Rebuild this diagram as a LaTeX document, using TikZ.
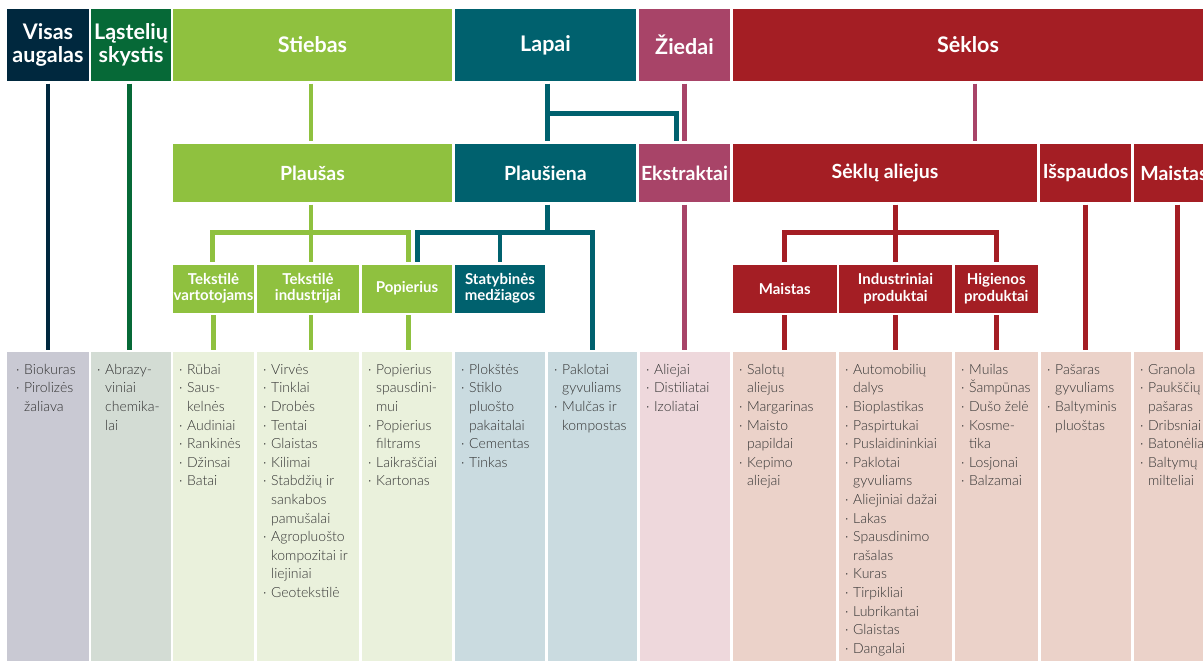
\documentclass[tikz,border=0pt]{standalone}
\usepackage{fontspec}
\setmainfont{Lato}
\newfontfamily\hdrfont{Lato Bold}
\newfontfamily\bodyfont{Lato Light}
\definecolor{cNavy}{HTML}{00283E}
\definecolor{cDGreen}{HTML}{066937}
\definecolor{cLime}{HTML}{8FC13F}
\definecolor{cTeal}{HTML}{00616E}
\definecolor{cMauve}{HTML}{A84468}
\definecolor{cRed}{HTML}{A41E24}
\definecolor{cFNavy}{HTML}{C9C9D3}
\definecolor{cFDGreen}{HTML}{D3DCD4}
\definecolor{cFLime}{HTML}{EAF1DC}
\definecolor{cFTeal}{HTML}{CADBE0}
\definecolor{cFMauve}{HTML}{EED8DC}
\definecolor{cFRed}{HTML}{EBD2C9}
\definecolor{cBody}{HTML}{333333}
\newcommand\myb{\makebox[8pt][l]{·}}
\newcommand\myc{\hspace*{8pt}}
\newcommand\myst{\rule{0pt}{11pt}}
\tikzset{
 hdr/.style={rectangle, inner sep=0pt, align=center, text=white, fill=#1},
 tophdr/.style={hdr=#1, minimum height=72pt, font=\hdrfont\fontsize{21.5}{22.5}\selectfont},
 midhdr/.style={hdr=#1, minimum height=58pt, font=\hdrfont\fontsize{19.5}{21}\selectfont},
 subhdr/.style={hdr=#1, minimum height=48pt, font=\hdrfont\fontsize{15}{16.5}\selectfont},
 colbox/.style={rectangle, inner sep=0pt, fill=#1, minimum height=312pt, anchor=north west},
 body/.style={inner sep=0pt, anchor=north west, align=left, text=cBody, font=\bodyfont\fontsize{14}{18.6}\selectfont},
 ln/.style={draw=#1, line width=4.6pt, shorten <=2.5pt, shorten >=2.5pt},
}
\begin{document}
\begin{tikzpicture}[x=1pt,y=-1pt]
\useasboundingbox (0,0) rectangle (1203,661);
\fill[white] (0,0) rectangle (1203,661);
\clip (0,0) rectangle (1203,661);
% top row
\node[tophdr=cNavy, minimum width=82pt] (va) at (48,45) {Visas\\augalas};
\node[tophdr=cDGreen, minimum width=80pt] (ls) at (131,45) {Ląstelių\\skystis};
\node[tophdr=cLime, minimum width=279pt] (st) at (312.5,45) {Stiebas};
\node[tophdr=cTeal, minimum width=181pt] (la) at (545.5,45) {Lapai};
\node[tophdr=cMauve, minimum width=91pt] (zi) at (684.5,45) {Žiedai};
\node[tophdr=cRed, minimum width=470pt] (se) at (968,45) {Sėklos};
% second row
\node[midhdr=cLime, minimum width=279pt] (pls) at (312.5,173) {Plaušas};
\node[midhdr=cTeal, minimum width=181pt] (plu) at (545.5,173) {Plaušiena};
\node[midhdr=cMauve, minimum width=91pt] (ek) at (684.5,173) {Ekstraktai};
\node[midhdr=cRed, minimum width=304pt] (sa) at (885,173) {Sėklų aliejus};
\node[midhdr=cRed, minimum width=91pt] (is) at (1085.5,173) {Išspaudos};
\node[midhdr=cRed, minimum width=80pt] (ma) at (1174,173) {Maistas};
% third row
\node[subhdr=cLime, minimum width=81pt] (tv) at (213.5,288.5) {Tekstilė\\vartotojams};
\node[subhdr=cLime, minimum width=102pt] (ti) at (308,288.5) {Tekstilė\\industrijai};
\node[subhdr=cLime, minimum width=90pt] (po) at (407,288.5) {Popierius};
\node[subhdr=cTeal, minimum width=90.5pt] (sm) at (500,288.5) {Statybinės\\medžiagos};
\node[subhdr=cRed, minimum width=103.5pt] (mai) at (784.75,288.5) {Maistas};
\node[subhdr=cRed, minimum width=113pt] (ip) at (895.5,288.5) {Industriniai\\produktai};
\node[subhdr=cRed, minimum width=82.5pt] (hp) at (996.25,288.5) {Higienos\\produktai};
% columns
\node[colbox=cFNavy, minimum width=82pt] (c1) at (7,352) {};
\node[colbox=cFDGreen, minimum width=80pt] (c2) at (91,352) {};
\node[colbox=cFLime, minimum width=81pt] (c3) at (173,352) {};
\node[colbox=cFLime, minimum width=102pt] (c4) at (257,352) {};
\node[colbox=cFLime, minimum width=90pt] (c5) at (362,352) {};
\node[colbox=cFTeal, minimum width=90pt] (c6) at (455,352) {};
\node[colbox=cFTeal, minimum width=89pt] (c7) at (548,352) {};
\node[colbox=cFMauve, minimum width=90pt] (c8) at (640,352) {};
\node[colbox=cFRed, minimum width=103pt] (c9) at (733,352) {};
\node[colbox=cFRed, minimum width=113pt] (c10) at (839,352) {};
\node[colbox=cFRed, minimum width=83pt] (c11) at (955,352) {};
\node[colbox=cFRed, minimum width=90pt] (c12) at (1041,352) {};
\node[colbox=cFRed, minimum width=88pt] (c13) at (1134,352) {};
% column texts
\node[body] (t1) at (16,363) {\myst\myb Biokuras\\\myb Pirolizės\\\myc žaliava};
\node[body] (t2) at (97,363) {\myst\myb Abrazy-\\\myc viniai\\\myc chemika-\\\myc lai};
\node[body] (t3) at (179,363) {\myst\myb Rūbai\\\myb Saus-\\\myc kelnės\\\myb Audiniai\\\myb Rankinės\\\myb Džinsai\\\myb Batai};
\node[body] (t4) at (263,363) {\myst\myb Virvės\\\myb Tinklai\\\myb Drobės\\\myb Tentai\\\myb Glaistas\\\myb Kilimai\\\myb Stabdžių ir\\\myc sankabos\\\myc pamušalai\\\myb Agropluošto\\\myc kompozitai ir\\\myc liejiniai\\\myb Geotekstilė};
\node[body] (t5) at (368,363) {\myst\myb Popierius\\\myc spausdini-\\\myc mui\\\myb Popierius\\\myc filtrams\\\myb Laikraščiai\\\myb Kartonas};
\node[body] (t6) at (461,363) {\myst\myb Plokštės\\\myb Stiklo\\\myc pluošto\\\myc pakaitalai\\\myb Cementas\\\myb Tinkas};
\node[body] (t7) at (554,363) {\myst\myb Paklotai\\\myc gyvuliams\\\myb Mulčas ir\\\myc kompostas};
\node[body] (t8) at (646,363) {\myst\myb Aliejai\\\myb Distiliatai\\\myb Izoliatai};
\node[body] (t9) at (739,363) {\myst\myb Salotų\\\myc aliejus\\\myb Margarinas\\\myb Maisto\\\myc papildai\\\myb Kepimo\\\myc aliejai};
\node[body] (t10) at (845,363) {\myst\myb Automobilių\\\myc dalys\\\myb Bioplastikas\\\myb Paspirtukai\\\myb Puslaidininkiai\\\myb Paklotai\\\myc gyvuliams\\\myb Aliejiniai dažai\\\myb Lakas\\\myb Spausdinimo\\\myc rašalas\\\myb Kuras\\\myb Tirpikliai\\\myb Lubrikantai\\\myb Glaistas\\\myb Dangalai};
\node[body] (t11) at (961,363) {\myst\myb Muilas\\\myb Šampūnas\\\myb Dušo želė\\\myb Kosme-\\\myc tika\\\myb Losjonai\\\myb Balzamai};
\node[body] (t12) at (1047,363) {\myst\myb Pašaras\\\myc gyvuliams\\\myb Baltyminis\\\myc pluoštas};
\node[body] (t13) at (1140,363) {\myst\myb Granola\\\myb Paukščių\\\myc pašaras\\\myb Dribsniai\\\myb Batonėliai\\\myb Baltymų\\\myc milteliai};
% connectors top -> second
\draw[ln=cNavy] (va.south) -- (va.south |- c1.north);
\draw[ln=cDGreen] ([xshift=-1.5pt]ls.south) -- ([xshift=-1.5pt]ls.south |- c2.north);
\draw[ln=cLime] ([xshift=-1.5pt]st.south) -- ([xshift=-1.5pt]st.south |- pls.north);
\draw[ln=cTeal] ([xshift=2pt]la.south) -- ([xshift=2pt]la.south |- plu.north);
\coordinate (jl) at (547.5,113.5);
\draw[ln=cTeal, shorten <=0pt] (jl) -| ([xshift=-8pt]ek.north);
\draw[ln=cMauve] (zi.south) -- (zi.south |- ek.north);
\draw[ln=cMauve] ([xshift=7pt]se.south) -- ([xshift=7pt]se.south |- sa.north);
% second -> third
\coordinate (jy) at (0,232.5);
\draw[ln=cLime] ([xshift=-1.5pt]pls.south) -- ([xshift=-1.5pt]pls.south |- ti.north);
\draw[ln=cLime] ([xshift=-1pt]tv.north) |- ([xshift=1.5pt]po.north |- jy) -- ([xshift=1.5pt]po.north);
\draw[ln=cTeal, shorten >=0pt] ([xshift=2pt]plu.south) -- ([xshift=2pt]plu.south |- jy);
\draw[ln=cTeal] ([xshift=10.5pt]po.north) |- (c7.north |- jy) -- (c7.north);
\draw[ln=cTeal, shorten <=0pt] (sm.north |- jy) -- (sm.north);
\draw[ln=cMauve] (ek.south) -- (ek.south |- c8.north);
\draw[ln=cRed] (ip.north |- sa.south) -- (ip.north);
\draw[ln=cRed] (mai.north) |- (hp.north |- jy) -- (hp.north);
\draw[ln=cRed] (is.south) -- (is.south |- c12.north);
\draw[ln=cRed] ([xshift=3.5pt]ma.south) -- ([xshift=3.5pt]ma.south |- c13.north);
% third -> columns
\draw[ln=cLime] (tv.south) -- (tv.south |- c3.north);
\draw[ln=cLime] ([xshift=3pt]ti.south) -- ([xshift=3pt]ti.south |- c4.north);
\draw[ln=cLime] ([xshift=1.5pt]po.south) -- ([xshift=1.5pt]po.south |- c5.north);
\draw[ln=cRed] (mai.south) -- (mai.south |- c9.north);
\draw[ln=cRed] (ip.south) -- (ip.south |- c10.north);
\draw[ln=cRed] (hp.south) -- (hp.south |- c11.north);
\end{tikzpicture}
\end{document}
